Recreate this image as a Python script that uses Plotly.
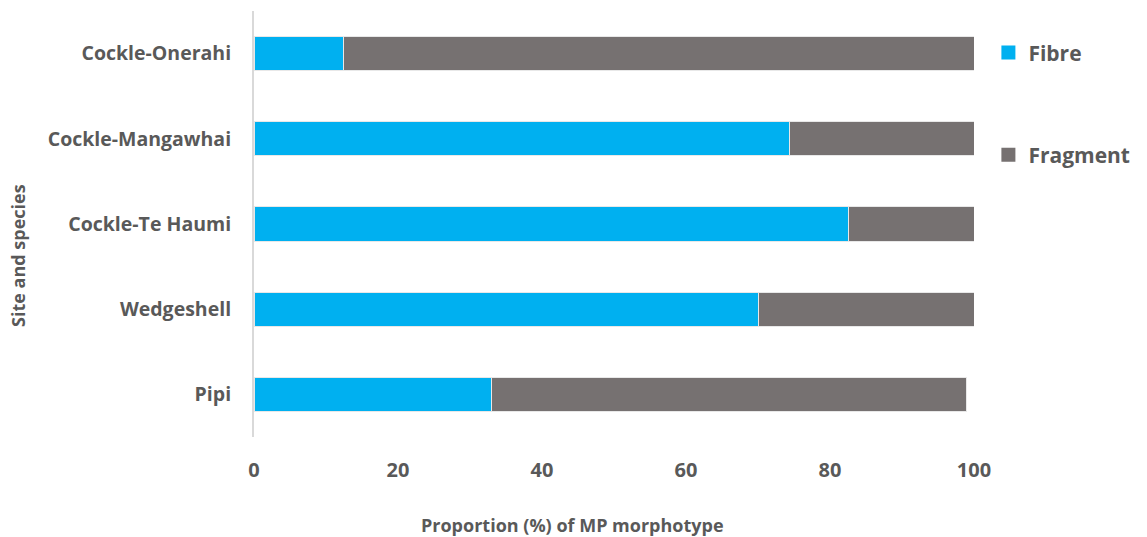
import plotly.graph_objects as go

# Site/species categories, listed bottom to top
sites = ["Pipi", "Wedgeshell", "Cockle-Te Haumi", "Cockle-Mangawhai", "Cockle-Onerahi"]
fibre = [33.0, 70.0, 82.5, 74.4, 12.4]
fragment = [66.0, 30.0, 17.5, 25.6, 87.6]
x_ticks = [0, 20, 40, 60, 80, 100]

FONT = "Open Sans"
TEXT = "#595959"
COLORS = {"Fibre": "#00B0F0", "Fragment": "#767171"}

fig = go.Figure()
for name, vals, grp in [("Fibre", fibre, "a"), ("Fragment", fragment, "b")]:
    fig.add_trace(go.Bar(
        y=sites, x=vals, name=name, orientation="h",
        marker=dict(color=COLORS[name], line=dict(color="#e8e8e8", width=1)),
        legendgroup=grp, showlegend=False,
    ))
    # larger square swatch for the legend entry
    fig.add_trace(go.Scatter(
        x=[None], y=[None], mode="markers", name=name, legendgroup=grp,
        marker=dict(symbol="square", size=14, color=COLORS[name], line=dict(width=0)),
        hoverinfo="skip",
    ))

title_font = dict(size=18, family=FONT, color=TEXT, weight="bold")

fig.update_layout(
    width=1147, height=537,
    barmode="stack", bargap=0.6,
    plot_bgcolor="white", paper_bgcolor="white",
    margin=dict(l=254, r=173, t=11, b=100),
    font=dict(family=FONT, color=TEXT, size=18, weight="bold"),
    legend=dict(
        x=1.02, y=0.95, xanchor="left", yanchor="top",
        traceorder="grouped", tracegroupgap=72,
        font=dict(size=21, family=FONT, color=TEXT, weight="bold"),
        itemwidth=30,
    ),
    xaxis=dict(
        range=[0, 100], tickvals=x_ticks, showgrid=False, zeroline=False,
        showline=False, ticks="", ticklabelstandoff=19,
        tickfont=dict(size=20, family=FONT, color=TEXT, weight="bold"),
    ),
    yaxis=dict(
        type="category", categoryorder="array", categoryarray=sites,
        showgrid=False, zeroline=False, showline=True, linecolor="#d9d9d9",
        linewidth=2, ticks="", ticklabelstandoff=17,
        tickfont=dict(size=19.5, family=FONT, color=TEXT, weight="bold"),
    ),
    annotations=[
        dict(text="Proportion (%) of MP morphotype", xref="paper", yref="paper",
             x=0.4417, y=-0.2066, xanchor="center", yanchor="middle",
             showarrow=False, font=title_font),
        dict(text="Site and species", xref="paper", yref="paper",
             x=-0.3278, y=0.4272, xanchor="center", yanchor="middle",
             textangle=-90, showarrow=False, font=title_font),
    ],
)

fig.write_html("out.html")
